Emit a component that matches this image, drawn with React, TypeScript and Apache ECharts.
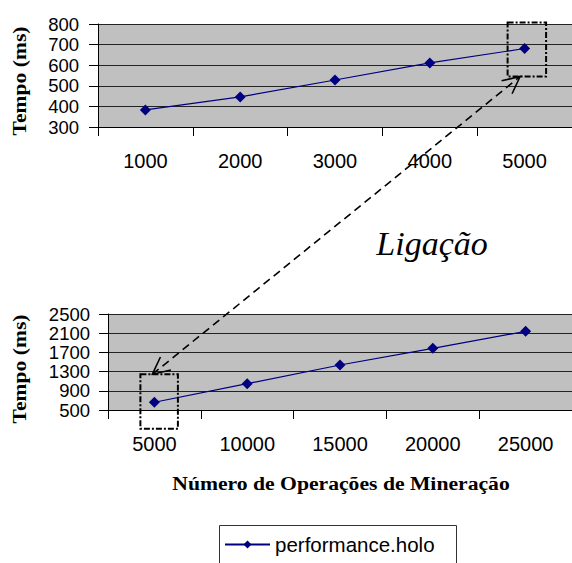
import React, { useEffect, useRef } from "react";
import * as echarts from "echarts";

const topCategories = ["1000", "2000", "3000", "4000", "5000"];
const topTimes = [383, 446, 528, 611, 681];
const topYMin = 300;
const topYMax = 800;
const topYStep = 100;

const bottomCategories = ["5000", "10000", "15000", "20000", "25000"];
const bottomTimes = [662, 1049, 1437, 1785, 2139];
const bottomYMin = 500;
const bottomYMax = 2500;
const bottomYStep = 400;

const seriesName = "performance.holo";
const yTitle = "Tempo (ms)";
const xTitle = "Número de Operações de Mineração";
const linkLabel = "Ligação";

const NAVY = "#000080";
const SANS = '"Liberation Sans", Arial, sans-serif';
const SERIF = '"Liberation Serif", "Times New Roman", serif';

function xAxisCfg(gridIndex: number, data: string[]) {
  return {
    type: "category",
    gridIndex,
    data,
    boundaryGap: true,
    axisLine: { show: true, lineStyle: { color: "#000", width: 1 } },
    axisTick: { show: true, length: 9, alignWithLabel: false, lineStyle: { color: "#000" } },
    axisLabel: { margin: 24, fontSize: 20, fontFamily: SANS, color: "#000" },
    splitLine: { show: false },
  };
}

function yAxisCfg(gridIndex: number, min: number, max: number, interval: number, margin: number) {
  return {
    type: "value",
    gridIndex,
    min,
    max,
    interval,
    axisLine: { show: true, lineStyle: { color: "#000", width: 1 } },
    axisTick: { show: true, length: 9, lineStyle: { color: "#000" } },
    axisLabel: {
      margin,
      fontSize: 18.5,
      lineHeight: 17,
      fontFamily: SANS,
      color: "#000",
      showMinLabel: true,
      showMaxLabel: true,
      hideOverlap: false,
      formatter: (v: number) => String(v),
    },
    splitLine: { show: true, lineStyle: { color: "#222", width: 1 } },
  };
}

export default function App() {
  const ref = useRef<HTMLDivElement>(null);

  useEffect(() => {
    if (!ref.current) return;
    const chart = echarts.init(ref.current, null, { renderer: "svg" });
    const lineSeries = (xi: number, data: number[]) => ({
      type: "line",
      name: seriesName,
      xAxisIndex: xi,
      yAxisIndex: xi,
      data,
      symbol: "diamond",
      symbolSize: 11,
      lineStyle: { color: NAVY, width: 1.2 },
      itemStyle: { color: NAVY },
      z: 3,
    });
    chart.setOption({
      animation: false,
      grid: [
        { left: 98, top: 24, width: 477, height: 103, show: true, backgroundColor: "#c0c0c0", borderWidth: 0 },
        { left: 108, top: 314, width: 468, height: 96, show: true, backgroundColor: "#c0c0c0", borderWidth: 0 },
      ],
      xAxis: [xAxisCfg(0, topCategories), xAxisCfg(1, bottomCategories)],
      yAxis: [
        yAxisCfg(0, topYMin, topYMax, topYStep, 19),
        yAxisCfg(1, bottomYMin, bottomYMax, bottomYStep, 18),
      ],
      legend: {
        data: [seriesName],
        left: 224,
        top: 534,
        padding: 0,
        itemWidth: 45,
        itemHeight: 10,
        itemGap: 5,
        textStyle: { fontSize: 20.5, fontFamily: SANS, color: "#000", lineHeight: 20 },
      },
      series: [lineSeries(0, topTimes), lineSeries(1, bottomTimes)],
    });

    const pt = chart.convertToPixel({ xAxisIndex: 0, yAxisIndex: 0 }, [topCategories[4], topTimes[4]]) as number[];
    const pb = chart.convertToPixel({ xAxisIndex: 1, yAxisIndex: 1 }, [bottomCategories[0], bottomTimes[0]]) as number[];

    const boxT = { x: pt[0] - 17, y: pt[1] - 26, width: 38.5, height: 54 };
    const boxB = { x: pb[0] - 14, y: pb[1] - 28, width: 37.5, height: 54.5 };
    const tipTop = [pt[0] - 4.5, boxT.y + boxT.height];
    const tipBot = [pb[0] - 2, boxB.y];

    const head = (tip: number[], from: number[]) => {
      const dx = from[0] - tip[0];
      const dy = from[1] - tip[1];
      const ang = Math.atan2(dy, dx);
      const L = 19;
      const a = (26 * Math.PI) / 180;
      return [
        [tip[0] + L * Math.cos(ang + a), tip[1] + L * Math.sin(ang + a)],
        tip,
        [tip[0] + L * Math.cos(ang - a), tip[1] + L * Math.sin(ang - a)],
      ];
    };

    const dashBox = (b: any) => ({
      type: "rect",
      z: 10,
      shape: b,
      style: { fill: "none", stroke: "#000", lineWidth: 2, lineDash: [6, 2, 2, 2] },
    });

    chart.setOption({
      graphic: [
        {
          type: "text", z: 10, x: 20, y: 81, rotation: Math.PI / 2, scaleX: 1.2,
          style: { text: yTitle, fontSize: 18, fontWeight: "bold", fontFamily: SERIF, fill: "#000", align: "center", verticalAlign: "middle" },
        },
        {
          type: "text", z: 10, x: 20, y: 369, rotation: Math.PI / 2, scaleX: 1.2,
          style: { text: yTitle, fontSize: 18, fontWeight: "bold", fontFamily: SERIF, fill: "#000", align: "center", verticalAlign: "middle" },
        },
        {
          type: "text", z: 10, x: 341, y: 483, scaleX: 1.14,
          style: { text: xTitle, fontSize: 19, fontWeight: "bold", fontFamily: SERIF, fill: "#000", align: "center", verticalAlign: "middle" },
        },
        {
          type: "text", z: 10, x: 432, y: 243,
          style: { text: linkLabel, fontSize: 34, fontStyle: "italic", fontFamily: SERIF, fill: "#000", align: "center", verticalAlign: "middle" },
        },
        dashBox(boxT),
        dashBox(boxB),
        {
          type: "line", z: 10,
          shape: { x1: tipBot[0], y1: tipBot[1], x2: tipTop[0], y2: tipTop[1] },
          style: { stroke: "#000", lineWidth: 1.6, lineDash: [8, 5] },
        },
        {
          type: "polyline", z: 10,
          shape: { points: head(tipTop, tipBot) },
          style: { stroke: "#000", lineWidth: 1.6, fill: "none" },
        },
        {
          type: "polyline", z: 10,
          shape: { points: head(tipBot, tipTop) },
          style: { stroke: "#000", lineWidth: 1.6, fill: "none" },
        },
        {
          type: "rect", z: 10,
          shape: { x: 219.5, y: 525.5, width: 237, height: 60 },
          style: { fill: "none", stroke: "#333", lineWidth: 1 },
        },
      ],
    });

    return () => chart.dispose();
  }, []);

  return (
    <div
      ref={ref}
      style={{ position: "absolute", left: 0, top: 0, width: 572, height: 563, background: "#fff" }}
    />
  );
}
